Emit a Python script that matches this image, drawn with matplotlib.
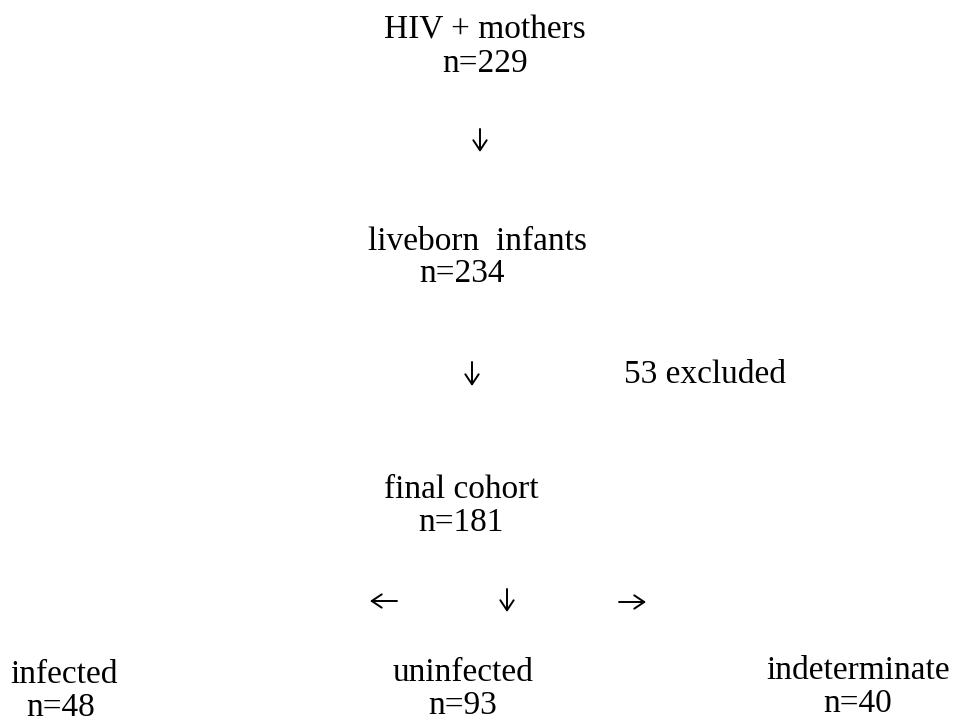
import matplotlib
matplotlib.use("Agg")
import matplotlib.pyplot as plt

# flow chart content
stages = ["HIV + mothers", "liveborn  infants", "final cohort"]
stage_n = [229, 234, 181]
excluded = 53
outcomes = ["infected", "uninfected", "indeterminate"]
outcome_n = [48, 93, 40]

# layout in pixels: (x centre, y centre)
stage_xy = [(485, 30), (478, 242), (461, 490)]
n_xy = [(485, 64), (462, 274), (461, 523)]
excl_xy = (705, 375)
outcome_xy = [(64, 675), (463, 673), (858, 671)]
outcome_n_xy = [(61, 708), (463, 706), (858, 704)]
# arrows: (x_start, y_start, x_end, y_end)
arrows = [(480, 129, 480, 152), (472, 362, 472, 386),
          (397, 601, 370, 601), (507, 589, 507, 612), (619, 602, 646, 602)]

fam = ["Liberation Serif", "DejaVu Serif"]
fs = 24

fig = plt.figure(figsize=(9.54, 7.24), dpi=100)
ax = fig.add_axes([0, 0, 1, 1])
ax.set_xlim(0, 954)
ax.set_ylim(724, 0)
ax.axis("off")

def put(xy, s):
    ax.text(xy[0], xy[1], s, ha="center", va="center", fontsize=fs, family=fam)

for i in range(len(stages)):
    put(stage_xy[i], stages[i])
    put(n_xy[i], "n=" + str(stage_n[i]))

put(excl_xy, str(excluded) + " excluded")

for i in range(len(outcomes)):
    put(outcome_xy[i], outcomes[i])
    put(outcome_n_xy[i], "n=" + str(outcome_n[i]))

for x0, y0, x1, y1 in arrows:
    ax.annotate("", xy=(x1, y1), xytext=(x0, y0),
                arrowprops=dict(arrowstyle="->,head_length=0.45,head_width=0.3",
                                lw=1.4, color="black", shrinkA=0, shrinkB=0,
                                mutation_scale=16))

fig.savefig("out.png", dpi=100)
